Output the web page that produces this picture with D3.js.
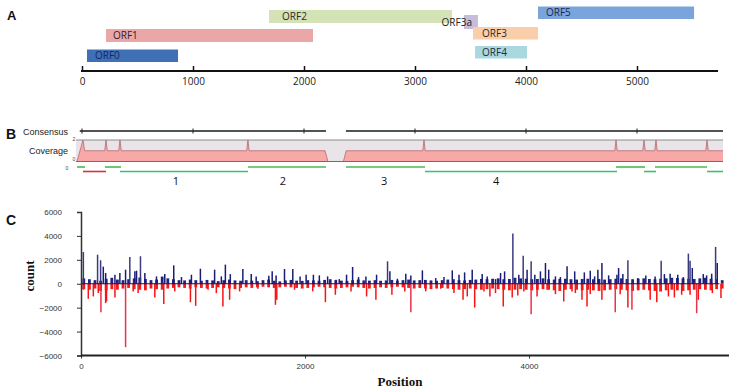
<!DOCTYPE html>
<html><head><meta charset="utf-8">
<script src="https://cdn.jsdelivr.net/npm/d3@7"></script>
<style>body{margin:0;background:#fff}svg{display:block}</style>
</head><body><svg id="c" width="737" height="392"></svg>
<script>
// ---------- DATA ----------
// Panel A: ORFs (genome positions)
const orfNames = ["ORF0","ORF1","ORF2","ORF3a","ORF3","ORF4","ORF5"];
const orfStart = [45, 216, 1685, 3441, 3523, 3541, 4108];
const orfEnd   = [865, 2081, 3333, 3567, 4108, 4009, 5514];
const axisTicksA = [0, 1000, 2000, 3000, 4000, 5000];
const genomeEnd = 5730;

// Panel B: consensus, coverage, fragments
const consStart = [-20, 2378];
const consEnd   = [2198, 5775];
const covPos = [-55,-45,9,24,205,216,228,331,342,354,1484,1495,1506,2190,2215,2355,2380,3070,3081,3092,4800,4811,4822,5052,5063,5074,5160,5171,5182,5620,5631,5642,5775];
const covVal = [0,0,2,1,1,2,1,1,2,1,1,2,1,1,0,0,1,1,2,1,1,2,1,1,2,1,1,2,1,1,2,1,1];
const readTopStart = [-45, 207, 1495, 2378, 4811, 5162];
const readTopEnd   = [27, 351, 2198, 3090, 5072, 5631];
const readLowStart = [9, 342, 3090, 5063, 5631];
const readLowEnd   = [216, 1495, 4820, 5171, 5775];
const readLowKind  = ["gap","frag","frag","frag","frag"];
const fragNames = ["1","2","3","4"];
const fragLabelPos = [847, 1811, 2721, 3730];

// Panel C: counts by position
const posSpikePos = [21,148,175,199,220,303,347,398,436,481,496,531,570,674,748,828,897,986,1066,1193,1253,1289,1333,1445,1520,1564,1677,1707,1742,1817,1891,1956,2010,2075,2128,2202,2277,2306,2371,2425,2478,2544,2639,2737,2758,2825,2900,2945,3048,3167,3241,3315,3375,3425,3493,3582,3627,3701,3746,3782,3856,3909,3948,3983,4019,4052,4102,4147,4176,4236,4280,4340,4408,4494,4547,4586,4615,4651,4711,4785,4800,4838,4883,4972,5043,5126,5180,5209,5260,5328,5378,5423,5438,5458,5556,5586,5631,5666,5681];
const posSpikeVal = [2650,2430,1960,1430,900,755,900,1175,2240,1035,1090,2300,900,615,810,1540,560,755,1260,1175,615,1600,810,1230,810,615,670,1035,700,1230,1230,615,755,755,700,615,335,390,755,1400,560,615,755,1875,1035,420,840,700,1120,475,560,1120,755,950,1175,810,615,390,900,1035,4200,755,2350,1175,1875,755,1035,1735,1175,615,560,1455,1035,950,1090,615,1175,1735,700,755,1315,810,1960,475,700,615,1930,810,840,755,560,2520,1930,1315,810,700,840,3080,1735];
const negSpikePos = [21,65,110,154,178,220,228,303,398,466,510,570,659,739,837,977,1024,1134,1208,1267,1327,1416,1579,1736,1748,1906,2069,2182,2271,2411,2550,2633,2776,2891,2945,3078,3212,3330,3411,3449,3515,3598,3651,3701,3770,3850,3900,3954,4019,4072,4161,4236,4310,4384,4414,4473,4518,4547,4651,4770,4814,4883,4919,5082,5141,5245,5298,5363,5438,5497,5512,5637,5714];
const negSpikeVal = [-500,-1260,-1060,-780,-2380,-1620,-1480,-1150,-5300,-640,-780,-500,-1150,-1700,-640,-1540,-1850,-500,-780,-1900,-1340,-640,-420,-1760,-1340,-500,-640,-1540,-920,-640,-1060,-1340,-920,-640,-2380,-640,-420,-780,-1340,-1060,-1990,-640,-1060,-780,-1900,-1150,-980,-640,-2545,-1060,-500,-870,-1480,-640,-780,-1340,-1900,-870,-1340,-2380,-870,-1990,-2180,-1340,-1540,-1060,-1150,-920,-920,-2460,-1340,-780,-1200];
// background level in 50-nt bins (bin start = index*50)
const blueBase = [450,380,300,250,420,500,350,300,380,450,
 520,400,300,350,600,450,380,300,280,350,
 300,250,320,280,220,300,350,280,250,300,
 260,220,300,350,250,200,280,320,260,240,
 300,280,250,320,380,300,260,240,300,350,
 280,260,300,250,280,320,260,300,350,280,
 300,320,280,250,300,350,380,300,280,320,
 350,400,380,420,450,380,400,500,450,420,
 380,400,450,380,350,400,420,380,350,400,
 420,380,400,350,380,420,450,400,380,420,
 450,400,380,420,450,500,480,450,420,400,
 450,500,420,380,300];
const redBase = [-450,-500,-400,-600,-550,-450,-500,-400,-350,-450,
 -500,-550,-400,-450,-500,-400,-350,-300,-350,-400,
 -300,-350,-400,-350,-300,-350,-400,-450,-350,-300,
 -350,-300,-250,-300,-350,-300,-250,-300,-350,-400,
 -350,-300,-250,-300,-350,-400,-350,-300,-250,-300,
 -350,-400,-350,-300,-350,-300,-250,-300,-350,-400,
 -350,-400,-450,-400,-350,-400,-450,-500,-450,-400,
 -450,-500,-450,-400,-450,-500,-550,-500,-450,-500,
 -550,-500,-450,-500,-550,-600,-500,-450,-500,-550,
 -500,-550,-600,-550,-500,-450,-500,-550,-600,-550,
 -500,-550,-600,-650,-550,-500,-550,-600,-550,-500,
 -450,-500,-550,-450,-400];
const yTicksC = [-6000,-4000,-2000,0,2000,4000,6000];
const xTicksC = [0,2000,4000];

// ---------- DRAW ----------
const svg = d3.select("#c");
const sans = "'Open Sans', 'Liberation Sans', Arial, sans-serif";
const arial = "'Liberation Sans', Arial, sans-serif";
const serif = "'Liberation Serif', 'Times New Roman', serif";

function letter(t, x, y, s) {
  svg.append("text").attr("x", x).attr("y", y).text(t)
    .attr("font-family", arial).attr("font-weight", "bold").attr("font-size", s).attr("fill", "#111");
}
letter("A", 7, 20, 13);
letter("B", 6, 139, 14);
letter("C", 6, 225, 14);

// ===== Panel A =====
const xA = d3.scaleLinear().domain([0, 5000]).range([82, 637]);
const orfLayout = {
  ORF0:  {y: 49.5, h: 12.5, fill: "#3f70b6", dx: 8,  txt: "#15275a"},
  ORF1:  {y: 29,   h: 13,   fill: "#eaa7a8", dx: 7,  txt: "#3a2020"},
  ORF2:  {y: 10,   h: 13,   fill: "#d4e3b6", dx: 13, txt: "#2a2a2a"},
  ORF3a: {y: 15,   h: 14,   fill: "#c6bddb", dx: -2, txt: "#222", anchor: "end"},
  ORF3:  {y: 27,   h: 12.5, fill: "#f9cea8", dx: 9,  txt: "#2a2a2a"},
  ORF4:  {y: 46,   h: 12.5, fill: "#a9d8e1", dx: 7,  txt: "#1e2e3a"},
  ORF5:  {y: 6.5,  h: 12.5, fill: "#7aa4dc", dx: 8,  txt: "#1a2a50"}
};
const gA = svg.append("g");
orfNames.forEach((n, i) => {
  const L = orfLayout[n];
  gA.append("rect").attr("x", xA(orfStart[i])).attr("y", L.y)
    .attr("width", xA(orfEnd[i]) - xA(orfStart[i])).attr("height", L.h).attr("fill", L.fill);
});
orfNames.forEach((n, i) => {
  const L = orfLayout[n];
  const tx = L.anchor === "end" ? xA(orfStart[i]) + 8 : xA(orfStart[i]) + L.dx;
  gA.append("text").attr("x", tx).attr("y", L.y + L.h / 2 + 3.5)
    .attr("text-anchor", L.anchor || "start")
    .attr("font-family", sans).attr("font-size", 10).attr("fill", L.txt).text(n);
});
const axA = gA.append("g").attr("transform", "translate(0,71)")
  .call(d3.axisBottom(xA).tickValues(axisTicksA).tickSize(-5).tickPadding(7).tickFormat(d3.format("d")));
axA.select(".domain").remove();
axA.selectAll(".tick line").attr("stroke", "#111").attr("stroke-width", 1.5);
axA.selectAll("text").attr("font-family", sans).attr("font-size", 10).attr("fill", "#222");
gA.append("line").attr("x1", 81).attr("x2", xA(genomeEnd)).attr("y1", 71).attr("y2", 71)
  .attr("stroke", "#111").attr("stroke-width", 2);

// ===== Panel B =====
const gB = svg.append("g");
gB.append("text").attr("x", 68).attr("y", 135).attr("text-anchor", "end")
  .attr("font-family", arial).attr("font-size", 9).attr("fill", "#222").text("Consensus");
gB.append("text").attr("x", 68).attr("y", 153.5).attr("text-anchor", "end")
  .attr("font-family", arial).attr("font-size", 9).attr("fill", "#222").text("Coverage");
[["2", 74, 141], ["0", 74, 161], ["0", 67, 170]].forEach(t => {
  gB.append("text").attr("x", t[1]).attr("y", t[2]).attr("text-anchor", "middle")
    .attr("font-family", arial).attr("font-size", 5).attr("fill", "#444").text(t[0]);
});
consStart.forEach((s, i) => {
  gB.append("line").attr("x1", xA(s)).attr("x2", xA(consEnd[i])).attr("y1", 131).attr("y2", 131)
    .attr("stroke", "#1a1a1a").attr("stroke-width", 1.6);
});
axisTicksA.forEach(t => {
  gB.append("line").attr("x1", xA(t)).attr("x2", xA(t)).attr("y1", 128.5).attr("y2", 133.5)
    .attr("stroke", "#222").attr("stroke-width", 1);
});
// coverage band
const yCov = d3.scaleLinear().domain([0, 2]).range([161.5, 140]);
gB.append("rect").attr("x", xA(covPos[0])).attr("y", 140)
  .attr("width", xA(covPos[covPos.length - 1]) - xA(covPos[0])).attr("height", 21.5)
  .attr("fill", "#e8e4e8");
const covData = covPos.map((p, i) => [p, covVal[i]]);
gB.append("path").datum(covData)
  .attr("d", d3.area().x(d => xA(d[0])).y0(yCov(0)).y1(d => yCov(d[1])))
  .attr("fill", "#f9a8a8");
gB.append("path").datum(covData)
  .attr("d", d3.line().x(d => xA(d[0])).y(d => yCov(d[1])))
  .attr("fill", "none").attr("stroke", "#b26a70").attr("stroke-width", 0.8);
gB.append("line").attr("x1", xA(covPos[0])).attr("x2", xA(covPos[covPos.length - 1]))
  .attr("y1", 140).attr("y2", 140).attr("stroke", "#8c8c8c").attr("stroke-width", 1);
gB.append("line").attr("x1", xA(covPos[0])).attr("x2", xA(covPos[covPos.length - 1]))
  .attr("y1", 161.5).attr("y2", 161.5).attr("stroke", "#6e6e6e").attr("stroke-width", 1);
// reads / fragments
readTopStart.forEach((s, i) => {
  gB.append("line").attr("x1", xA(s)).attr("x2", xA(readTopEnd[i])).attr("y1", 167).attr("y2", 167)
    .attr("stroke", "#4cb94c").attr("stroke-width", 1.6);
});
readLowStart.forEach((s, i) => {
  gB.append("line").attr("x1", xA(s)).attr("x2", xA(readLowEnd[i])).attr("y1", 171.5).attr("y2", 171.5)
    .attr("stroke", readLowKind[i] === "gap" ? "#d9304a" : "#3cc070").attr("stroke-width", 1.6);
});
fragNames.forEach((f, i) => {
  gB.append("text").attr("x", xA(fragLabelPos[i])).attr("y", 185).attr("text-anchor", "middle")
    .attr("font-family", sans).attr("font-size", 11).attr("fill", "#111").text(f);
});

// ===== Panel C =====
const xC = d3.scaleLinear().domain([0, 4000]).range([81, 529]);
const yC = d3.scaleLinear().domain([-6000, 6000]).range([355.5, 212]);
const gC = svg.append("g");
const baseX = (i) => xC(i * 50 + 25);
blueBase.forEach((v, i) => {
  gC.append("rect").attr("x", baseX(i) - 1.4).attr("width", 2.8)
    .attr("y", yC(v)).attr("height", yC(0) - yC(v)).attr("fill", "#23237e");
});
redBase.forEach((v, i) => {
  gC.append("rect").attr("x", baseX(i) - 1.4).attr("width", 2.8)
    .attr("y", yC(0)).attr("height", yC(v) - yC(0)).attr("fill", "#f51a1a");
});
posSpikePos.forEach((p, i) => {
  gC.append("line").attr("x1", xC(p)).attr("x2", xC(p)).attr("y1", yC(0)).attr("y2", yC(posSpikeVal[i]))
    .attr("stroke", posSpikeVal[i] > 1800 ? "#3a3a80" : "#1c1c78").attr("stroke-width", 1.5);
});
negSpikePos.forEach((p, i) => {
  gC.append("line").attr("x1", xC(p)).attr("x2", xC(p)).attr("y1", yC(0)).attr("y2", yC(negSpikeVal[i]))
    .attr("stroke", negSpikeVal[i] < -2000 ? "#e8324e" : "#f81414").attr("stroke-width", 1.5);
});
gC.append("line").attr("x1", xC(0)).attr("x2", xC(5700)).attr("y1", yC(0)).attr("y2", yC(0))
  .attr("stroke", "#101040").attr("stroke-width", 1.2);

const axY = gC.append("g").attr("transform", "translate(81,0)")
  .call(d3.axisLeft(yC).tickValues(yTicksC).tickSize(4).tickPadding(15).tickFormat(d3.format("d")));
axY.select(".domain").attr("stroke", "#333").attr("stroke-width", 1.5);
axY.selectAll(".tick line").attr("stroke", "#333");
axY.selectAll("text").attr("font-family", arial).attr("font-size", 8).attr("fill", "#333");
const axX = gC.append("g").attr("transform", "translate(0,355.5)")
  .call(d3.axisBottom(xC).tickValues(xTicksC).tickSize(3).tickPadding(5).tickFormat(d3.format("d")));
axX.select(".domain").remove();
axX.selectAll(".tick line").attr("stroke", "#333");
axX.selectAll("text").attr("font-family", arial).attr("font-size", 8).attr("fill", "#333");
gC.append("line").attr("x1", 81).attr("x2", 729).attr("y1", 355.5).attr("y2", 355.5)
  .attr("stroke", "#222").attr("stroke-width", 1.8);

gC.append("text").attr("transform", "translate(34,276) rotate(-90)").attr("text-anchor", "middle")
  .attr("font-family", serif).attr("font-weight", "bold").attr("font-size", 13).attr("fill", "#111").text("count");
gC.append("text").attr("x", 400).attr("y", 386).attr("text-anchor", "middle")
  .attr("font-family", serif).attr("font-weight", "bold").attr("font-size", 13).attr("fill", "#111").text("Position");
</script>
</body></html>
